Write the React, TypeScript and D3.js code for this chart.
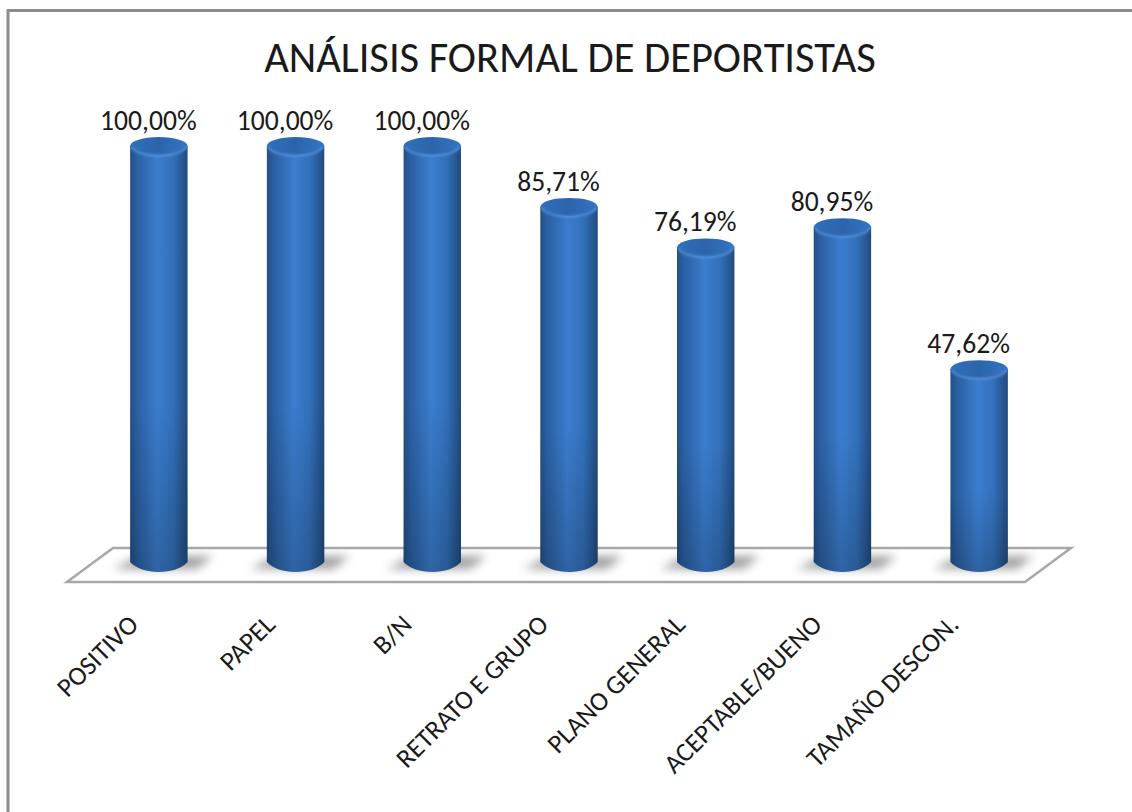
import React from "react";
import * as d3 from "d3";

const categories = ["POSITIVO", "PAPEL", "B/N", "RETRATO E GRUPO", "PLANO GENERAL", "ACEPTABLE/BUENO", "TAMAÑO DESCON."];
const values = [100, 100, 100, 85.71, 76.19, 80.95, 47.62];
const valueLabels = ["100,00%", "100,00%", "100,00%", "85,71%", "76,19%", "80,95%", "47,62%"];
const title = "ANÁLISIS FORMAL DE DEPORTISTAS";
const font = "Carlito, Lato, 'Open Sans', sans-serif";

const W = 1132, H = 812;
const x = d3.scaleBand<string>().domain(categories).range([90.5, 1047.5]).paddingInner(0.58).paddingOuter(0.29);
const y = d3.scaleLinear().domain([0, 100]).range([572, 146]);
const base = y(0) - 10;
const floor = d3.line()([[67, 582], [1025, 582], [1071, 548], [113, 548]]) + "Z";

function cylinder(cx: number, top: number, w: number) {
  const p = d3.path();
  const rx = w / 2;
  p.moveTo(cx - rx, top);
  p.lineTo(cx - rx, base);
  p.bezierCurveTo(cx - rx * 0.6, base + 13.3, cx + rx * 0.6, base + 13.3, cx + rx, base);
  p.lineTo(cx + rx, top);
  p.closePath();
  return p.toString();
}

export default function App() {
  const w = x.bandwidth();
  return (
    <svg width={W} height={H} style={{ position: "absolute", left: 0, top: 0 }} fontFamily={font}>
      <defs>
        <linearGradient id="body" x1="0" x2="1" y1="0" y2="0">
          <stop offset="0" stopColor="#234f86" />
          <stop offset="0.12" stopColor="#2b60a3" />
          <stop offset="0.48" stopColor="#3b7dcf" />
          <stop offset="0.75" stopColor="#3270ba" />
          <stop offset="0.93" stopColor="#27558f" />
          <stop offset="1" stopColor="#204a7c" />
        </linearGradient>
        <linearGradient id="fade" x1="0" x2="0" y1="0" y2="1">
          <stop offset="0" stopColor="#000" stopOpacity="0" />
          <stop offset="0.6" stopColor="#000" stopOpacity="0" />
          <stop offset="1" stopColor="#000" stopOpacity="0.2" />
        </linearGradient>
        <linearGradient id="cap" x1="0" x2="1" y1="0" y2="0">
          <stop offset="0" stopColor="#3170ba" />
          <stop offset="0.5" stopColor="#2b64ac" />
          <stop offset="1" stopColor="#3575c3" />
        </linearGradient>
        <filter id="blur" x="-30%" y="-60%" width="160%" height="220%">
          <feGaussianBlur stdDeviation="5" />
        </filter>
        <filter id="soft" x="-5%" y="-30%" width="110%" height="160%">
          <feGaussianBlur stdDeviation="0.8" />
        </filter>
      </defs>
      <rect x={0} y={0} width={W} height={H} fill="#fff" />
      <line x1={8} x2={W} y1={10.5} y2={10.5} stroke="#8c8c8c" strokeWidth={3} />
      <line x1={8} x2={8} y1={9} y2={H} stroke="#8c8c8c" strokeWidth={3} />
      <text x={570} y={72} textAnchor="middle" fontSize={42.5} fill="#1a1a1a">{title}</text>
      <path d={floor} fill="#fff" stroke="#a8a8a8" strokeWidth={2.5} strokeLinejoin="miter" />
      {categories.map((c, i) => {
        const cx = (x(c) as number) + w / 2;
        const top = y(values[i]);
        return (
          <g key={c}>
            <path d={`M${cx - 46},569 L${cx + 38},569 L${cx + 54},556 L${cx - 20},556 Z`} fill="#8a8a8a" opacity={0.8} filter="url(#blur)" />
            <path d={cylinder(cx, top, w)} fill="url(#body)" />
            <path d={cylinder(cx, top, w)} fill="url(#fade)" />
            <ellipse cx={cx} cy={top} rx={w / 2} ry={9} fill="url(#cap)" />
            <path d={`M${cx - w / 2 + 2},${top + 1} A${w / 2 - 2},8.5 0 0 0 ${cx + w / 2 - 2},${top + 1}`} fill="none" stroke="#6aa3e6" strokeOpacity={0.6} strokeWidth={2} filter="url(#soft)" />
            <text x={cx - 10.5} y={top - 16} textAnchor="middle" fontSize={27.6} fill="#1a1a1a">{valueLabels[i]}</text>
            <text transform={`translate(${cx - 19},626) rotate(-45)`} textAnchor="end" fontSize={26.6} fill="#1a1a1a">{c}</text>
          </g>
        );
      })}
    </svg>
  );
}
